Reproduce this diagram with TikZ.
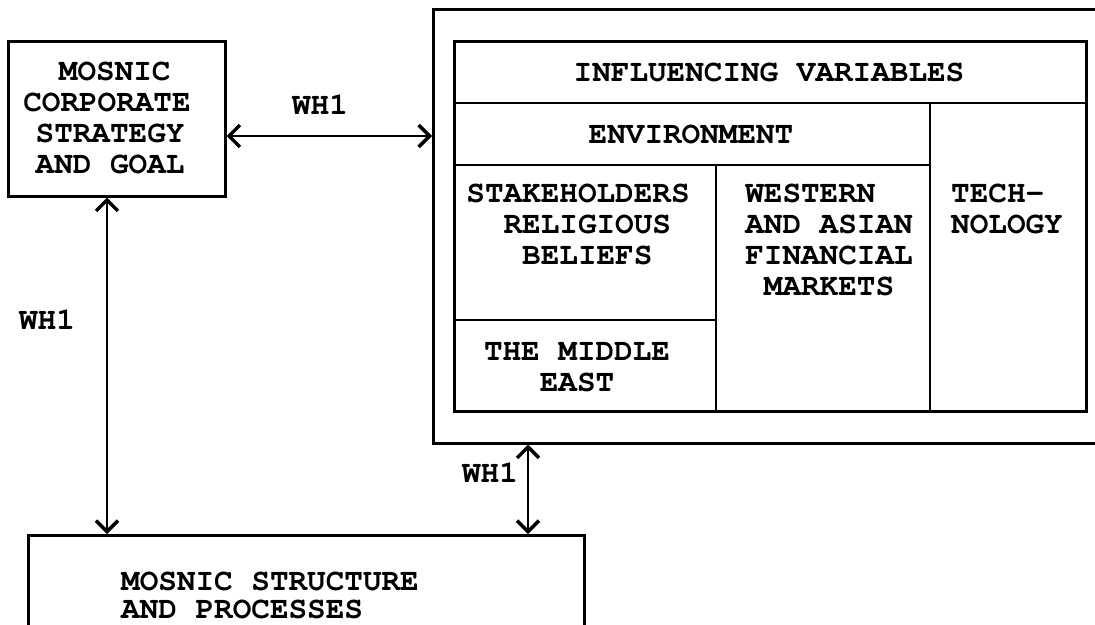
\documentclass[tikz,border=0pt]{standalone}
\usepackage{fontspec}
\setmainfont{TeX Gyre Cursor}
\usetikzlibrary{arrows.meta}
\begin{document}
\begin{tikzpicture}[x=1pt,y=-1pt,
  box/.style={draw, line width=2.5pt, inner sep=0pt, anchor=north west},
  lbl/.style={font=\bfseries\fontsize{31}{31}\selectfont, inner sep=0pt},
  rule/.style={line width=2.5pt},
  barb/.tip={Straight Barb[length=11pt,width=22pt,line width=3.5pt]},
  link/.style={line width=2.4pt, barb-barb}]
\useasboundingbox (0,0) rectangle (1095,624);
\clip (0,0) rectangle (1095,624);

% corporate strategy box
\node[box, minimum width=217pt, minimum height=155pt] (corp) at (7,40) {};
\node[lbl, align=left] (corptxt) at (107,118)
  {\hspace*{1.15em}MOSNIC\\CORPORATE\\\hspace*{0.4em}STRATEGY\\\hspace*{0.4em}AND GOAL};

% environment frame and influencing-variables table
\node[box, minimum width=700pt, minimum height=434pt] (env) at (432,8) {};
\node[box, minimum width=632pt, minimum height=370pt] (tab) at (453,40) {};

\coordinate (r1) at (0,103);
\coordinate (r2) at (0,165);
\coordinate (r3) at (0,320);
\coordinate (c1) at (716,0);
\coordinate (c2) at (930,0);

\draw[rule] (tab.west |- r1) -- (tab.east |- r1);
\draw[rule] (c2 |- r1) -- (c2 |- tab.south);
\draw[rule] (tab.west |- r2) -- (c2 |- r2);
\draw[rule] (c1 |- r2) -- (c1 |- tab.south);
\draw[rule] (tab.west |- r3) -- (c1 |- r3);

\node[lbl] (infl) at (769,72) {INFLUENCING VARIABLES};
\node[lbl] (envt) at (691,134) {ENVIRONMENT};
\node[lbl, align=left] (stake) at (578,224)
  {STAKEHOLDERS\\\hspace*{1.2em}RELIGIOUS\\\hspace*{1.8em}BELIEFS};
\node[lbl, align=center] (mideast) at (577,367) {THE MIDDLE\\EAST};
\node[lbl, align=left] (markets) at (829,240)
  {WESTERN\\AND ASIAN\\FINANCIAL\\\hspace*{0.6em}MARKETS};
\node[lbl, align=left] (tech) at (1007,209) {TECH-\\NOLOGY};

% structure and processes box
\node[box, minimum width=556pt, minimum height=150pt] (proc) at (27,534) {};
\node[lbl, font=\bfseries\fontsize{31}{28}\selectfont, align=left, anchor=west] (proctxt)
  at (121,595) {MOSNIC STRUCTURE\\AND PROCESSES};

% two-way links
\coordinate (ha) at (0,136);
\coordinate (va) at (107,0);
\coordinate (vb) at (528,0);
\draw[link] (corp.east |- ha) -- (env.west |- ha);
\draw[link] (corp.south -| va) -- (proc.north -| va);
\draw[link] (env.south -| vb) -- (proc.north -| vb);

\node[lbl] (wha) at (320,105) {WH1};
\node[lbl] (whb) at (47,320) {WH1};
\node[lbl] (whc) at (490,473) {WH1};
\end{tikzpicture}
\end{document}
